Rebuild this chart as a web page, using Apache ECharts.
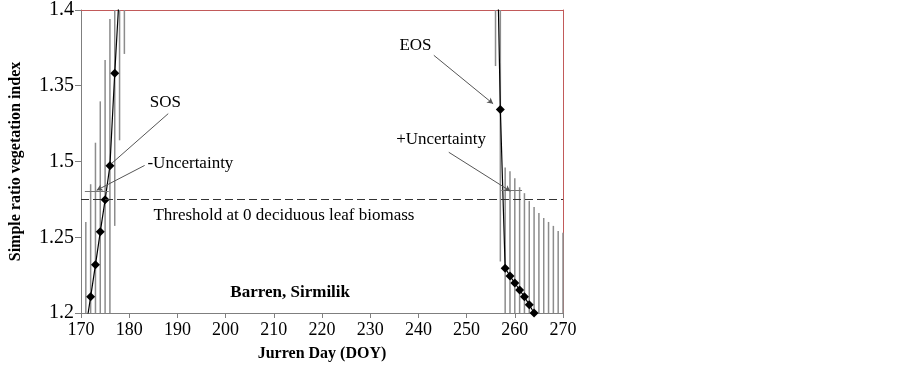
<!DOCTYPE html>
<html>
<head>
<meta charset="utf-8">
<script src="https://cdn.jsdelivr.net/npm/echarts@6/dist/echarts.min.js"></script>
<style>
  html, body { margin: 0; padding: 0; background: #fff; }
  #chart { width: 903px; height: 369px; }
</style>
</head>
<body>
<div id="chart"></div>
<script>
// start of season (green-up) points
var sosDays = [171, 172, 173, 174, 175, 176, 177, 178, 179];
var sosValues = [1.19, 1.2107, 1.2318, 1.2536, 1.2747, 1.2972, 1.3582, 1.414, 1.47];
var sosLow = [1.12, 1.136, 1.151, 1.167, 1.182, 1.19, 1.2575, 1.314, 1.371];
var sosHigh = [1.26, 1.285, 1.3124, 1.3397, 1.367, 1.394, 1.458, 1.514, 1.57];

// end of season (senescence) points
var eosDays = [256, 257, 258, 259, 260, 261, 262, 263, 264];
var eosValues = [1.5, 1.3344, 1.2296, 1.2244, 1.2198, 1.2152, 1.2107, 1.2054, 1.2];

// error bars for the end of season, run further than the points
var eosBarDays = [256, 257, 258, 259, 260, 261, 262, 263, 264, 265, 266, 267, 268, 269, 270];
var eosLow = [1.363, 1.234, 1.16, 1.155, 1.15, 1.145, 1.14, 1.135, 1.13, 1.13, 1.13, 1.13, 1.13, 1.13, 1.13];
var eosHigh = [1.56, 1.434, 1.2961, 1.2935, 1.2889, 1.283, 1.2791, 1.2739, 1.2699, 1.266, 1.2627, 1.2601, 1.2575, 1.2542, 1.2529];

// threshold and the two horizontal uncertainty bars [from, to, value]
var threshold = 1.275;
var minusUncertainty = [170.8, 175.75, 1.2804];
var plusUncertainty = [257.2, 261.5, 1.2808];

// tick labels as printed on the original (third one really reads 1.5)
var yTickLabels = ['1.2', '1.25', '1.5', '1.35', '1.4'];

var serif = 'Liberation Serif';
var frameRed = '#c25a5a';
var axisGrey = '#7f7f7f';

function pairs(xs, ys) {
  return xs.map(function (x, i) { return [x, ys[i]]; });
}
function bars(xs, lo, hi) {
  return xs.map(function (x, i) { return [x, lo[i], hi[i]]; });
}

var chart = echarts.init(document.getElementById('chart'));

var option = {
  animation: false,
  grid: { left: 79, right: 340, top: 7, bottom: 56 },
  xAxis: [
    {
      type: 'value', min: 170, max: 270, interval: 10,
      name: 'Jurren Day (DOY)', nameLocation: 'middle', nameGap: 33,
      nameTextStyle: { fontFamily: serif, fontSize: 16, fontWeight: 'bold', color: '#000' },
      axisLine: { show: true, lineStyle: { color: axisGrey, width: 1 } },
      axisTick: { show: true, length: 5, lineStyle: { color: axisGrey } },
      axisLabel: { fontFamily: serif, fontSize: 18, color: '#000', margin: 8 },
      splitLine: { show: false }
    },
    {
      // top frame edge
      type: 'value', position: 'top', min: 170, max: 270,
      axisLine: { show: true, lineStyle: { color: frameRed, width: 1 } },
      axisTick: { show: false }, axisLabel: { show: false }, splitLine: { show: false }
    }
  ],
  yAxis: [
    {
      type: 'value', min: 1.2, max: 1.4, interval: 0.05,
      name: 'Simple ratio vegetation index', nameLocation: 'middle', nameGap: 57, nameRotate: 90,
      nameTextStyle: { fontFamily: serif, fontSize: 16, fontWeight: 'bold', color: '#000' },
      axisLine: { show: true, lineStyle: { color: axisGrey, width: 1 } },
      axisTick: { show: true, length: 6, lineStyle: { color: axisGrey } },
      axisLabel: {
        fontFamily: serif, fontSize: 20, color: '#000', margin: 7,
        formatter: function (v) {
          var i = Math.round((v - 1.2) / 0.05);
          return yTickLabels[i];
        }
      },
      splitLine: { show: false }
    },
    {
      // right frame edge
      type: 'value', position: 'right', min: 1.2, max: 1.4,
      axisLine: { show: true, onZero: false, lineStyle: { color: frameRed, width: 1 } },
      axisTick: { show: false }, axisLabel: { show: false }, splitLine: { show: false }
    }
  ],
  series: [
    {
      // vertical error bars
      type: 'custom',
      z: 1,
      data: bars(sosDays, sosLow, sosHigh).concat(bars(eosBarDays, eosLow, eosHigh)),
      encode: { x: 0, y: [1, 2] },
      renderItem: function (params, api) {
        var a = api.coord([api.value(0), api.value(1)]);
        var b = api.coord([api.value(0), api.value(2)]);
        var cs = params.coordSys;
        var top = cs.y, bottom = cs.y + cs.height;
        return {
          type: 'line',
          shape: {
            x1: a[0], y1: Math.min(Math.max(a[1], top), bottom),
            x2: b[0], y2: Math.min(Math.max(b[1], top), bottom)
          },
          style: { stroke: '#8c8c8c', lineWidth: 1.5 }
        };
      }
    },
    {
      type: 'line',
      z: 3,
      data: pairs(sosDays, sosValues),
      clip: true,
      symbol: 'diamond', symbolSize: 9,
      itemStyle: { color: '#000' },
      lineStyle: { color: '#000', width: 1.2 },
      markLine: {
        silent: true,
        symbol: ['none', 'none'],
        label: { show: false },
        lineStyle: { color: '#333', type: [8, 4], width: 1 },
        data: [
          [{ coord: [170, threshold] }, { coord: [270, threshold] }],
          [{ coord: [minusUncertainty[0], minusUncertainty[2]], lineStyle: { color: '#777', type: 'solid' } },
           { coord: [minusUncertainty[1], minusUncertainty[2]] }],
          [{ coord: [plusUncertainty[0], plusUncertainty[2]], lineStyle: { color: '#777', type: 'solid' } },
           { coord: [plusUncertainty[1], plusUncertainty[2]] }],
          [{ coord: [188.1, 1.3316], lineStyle: { color: '#555', type: 'solid' } }, { coord: [176.35, 1.2987] }]
        ]
      },
      markPoint: {
        silent: true,
        symbol: 'rect', symbolSize: 1,
        itemStyle: { color: 'rgba(0,0,0,0)' },
        label: {
          show: true, position: 'inside', fontFamily: serif, fontSize: 17, color: '#000',
          formatter: function (p) { return p.name; }
        },
        data: [
          { name: 'SOS', coord: [187.5, 1.3392] },
          { name: '-Uncertainty', coord: [192.7, 1.2987] },
          { name: 'Threshold at 0 deciduous leaf biomass', coord: [212.1, 1.2641] },
          { name: 'Barren, Sirmilik', coord: [213.4, 1.2137], label: { fontWeight: 'bold' } },
          { name: 'EOS', coord: [239.4, 1.3763] },
          { name: '+Uncertainty', coord: [244.7, 1.3142] }
        ]
      }
    },
    {
      type: 'line',
      z: 3,
      data: pairs(eosDays, eosValues),
      clip: true,
      symbol: 'diamond', symbolSize: 9,
      itemStyle: { color: '#000' },
      lineStyle: { color: '#000', width: 1.2 },
      markLine: {
        silent: true,
        symbol: ['none', 'arrow'],
        symbolSize: [5, 6],
        label: { show: false },
        lineStyle: { color: '#555', type: 'solid', width: 1 },
        data: [
          [{ coord: [183.2, 1.2974] }, { coord: [173.25, 1.281] }],
          [{ coord: [243.2, 1.3701] }, { coord: [255.5, 1.3381] }],
          [{ coord: [246.3, 1.3061] }, { coord: [259.1, 1.2804] }]
        ]
      }
    }
  ]
};

chart.setOption(option);
window.addEventListener('resize', function () { chart.resize(); });
</script>
</body>
</html>
